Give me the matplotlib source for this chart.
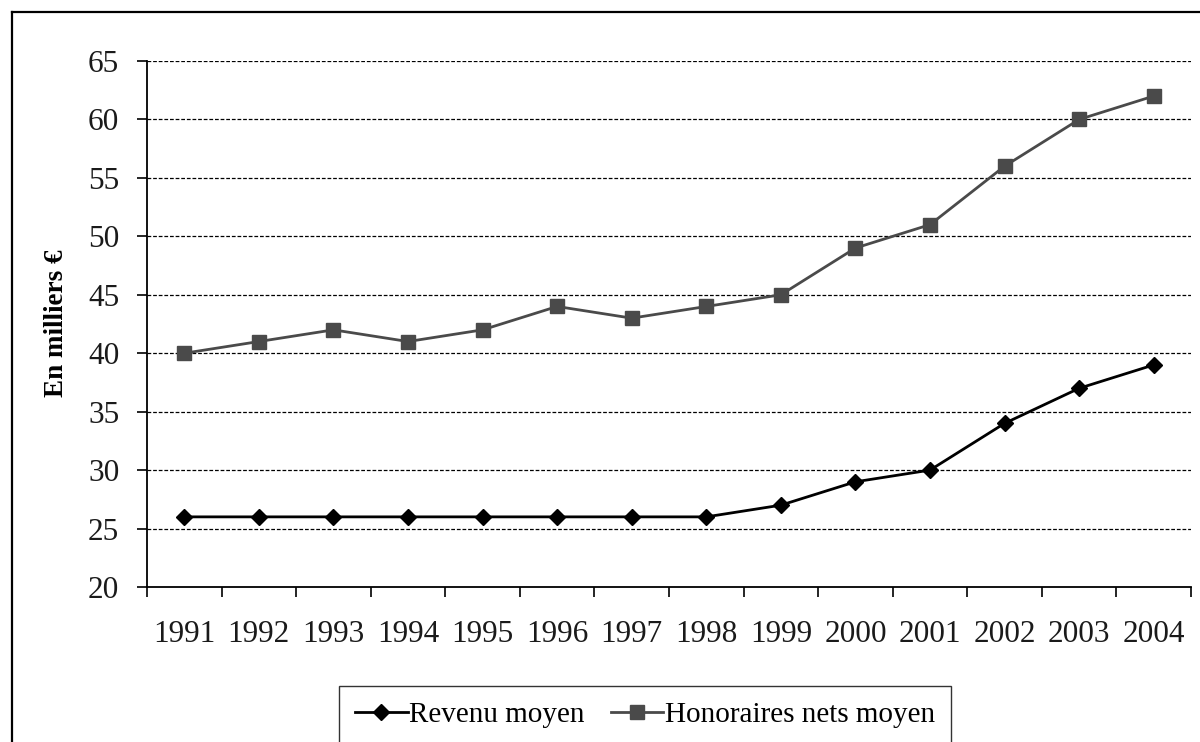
import matplotlib
matplotlib.use("Agg")
import matplotlib.pyplot as plt
from matplotlib.lines import Line2D
import numpy as np

years = ["1991", "1992", "1993", "1994", "1995", "1996", "1997",
         "1998", "1999", "2000", "2001", "2002", "2003", "2004"]
revenu = [26, 26, 26, 26, 26, 26, 26, 26, 27, 29, 30, 34, 37, 39]
honoraires = [40, 41, 42, 41, 42, 44, 43, 44, 45, 49, 51, 56, 60, 62]
yticks = [20, 25, 30, 35, 40, 45, 50, 55, 60, 65]

plt.rcParams['font.family'] = ['Liberation Serif', 'DejaVu Serif']

W, H = 1200, 742
fig = plt.figure(figsize=(W / 100, H / 100), dpi=100)
ax = fig.add_axes([147 / W, 1 - 587 / H, (1191 - 147) / W, (587 - 61) / H])

x = np.arange(len(years))
ax.plot(x, revenu, color='black', lw=2, marker='D', ms=8.5,
        label='Revenu moyen', zorder=3)
ax.plot(x, honoraires, color='#4a4a4a', lw=2, marker='s', ms=10.5,
        label='Honoraires nets moyen', zorder=3)

ax.set_xlim(-0.5, len(years) - 0.5)
ax.set_ylim(20, 65)
ax.set_yticks(yticks)
ax.set_yticklabels([str(v) for v in yticks])
ax.set_xticks(x)
ax.set_xticklabels(years)
ax.set_xticks(np.arange(-0.5, len(years), 1.0), minor=True)

ax.tick_params(axis='x', which='major', length=0, pad=24, labelsize=22.5)
ax.tick_params(axis='x', which='minor', length=7, width=1.2, direction='out')
ax.tick_params(axis='y', which='major', length=7, width=1.2, direction='out',
               pad=13, labelsize=22.5)
ax.tick_params(axis='both', labelcolor='#1a1a1a', color='black')

for s in ['top', 'right']:
    ax.spines[s].set_visible(False)
for s in ['left', 'bottom']:
    ax.spines[s].set_linewidth(1.3)
    ax.spines[s].set_color('black')

for v in yticks[1:]:
    ax.axhline(v, color='black', lw=0.9, ls=(0, (3, 1.5)), zorder=1)

fig.text(57 / W, 1 - 323 / H, 'En milliers €', rotation=90, fontsize=19.5,
         fontweight='bold', ha='center', va='center')

leg = fig.legend(loc='upper center', bbox_to_anchor=(645 / W, 1 - 686 / H),
                 ncol=2, fontsize=21, frameon=True, fancybox=False,
                 edgecolor='black', handlelength=1.8, handletextpad=0.05,
                 columnspacing=0.9, borderpad=0.55, borderaxespad=0)
leg.get_frame().set_linewidth(1.0)

# outer chart border (left and top visible)
fig.add_artist(Line2D([12 / W, 12 / W], [0, 1 - 12 / H], color='black',
                      lw=1.6, transform=fig.transFigure))
fig.add_artist(Line2D([12 / W, 1], [1 - 12 / H, 1 - 12 / H], color='black',
                      lw=1.6, transform=fig.transFigure))

fig.savefig('out.png', dpi=100)
